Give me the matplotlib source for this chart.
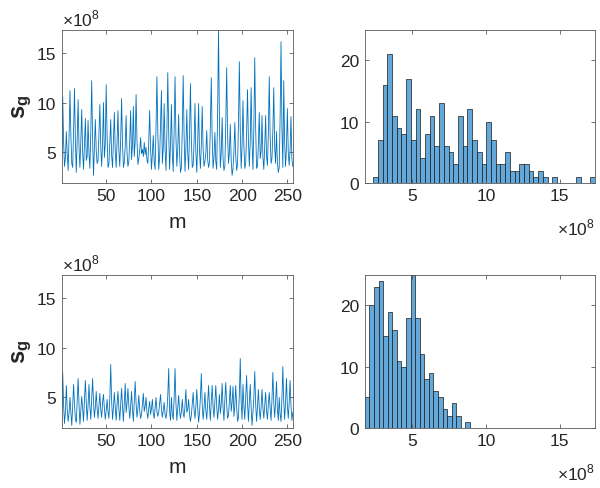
import numpy as np
import matplotlib
matplotlib.use('Agg')
import matplotlib.pyplot as plt

plt.rcParams['font.family'] = ['Liberation Sans', 'DejaVu Sans']
plt.rcParams['mathtext.fontset'] = 'custom'
plt.rcParams['mathtext.rm'] = 'Liberation Sans'
plt.rcParams['mathtext.bf'] = 'Liberation Sans:bold'

# s_g values (units of 1e8), m = 1..256
sg_top = [5.0,
          10.6, 6.0, 3.6, 4.5, 7.1, 4.8, 3.2, 6.5, 11.2, 6.8, 3.9, 3.5, 7.2,
          11.4, 6.1, 3.0, 6.4, 10.3, 5.5, 3.5, 6.2, 9.3, 5.0, 3.3, 5.9,
          8.4, 4.2, 4.6, 8.2, 4.9, 3.4, 7.0, 12.2, 6.3, 2.7, 5.5,
          8.3, 5.2, 3.9, 4.2, 6.8, 9.8, 5.6, 3.6, 6.0, 10.0, 4.5, 5.8,
          11.8, 6.6, 3.5, 3.8, 5.9, 8.3, 4.7, 3.5, 6.1, 9.0, 5.1, 3.5, 6.0,
          9.2, 5.2, 3.6, 6.3, 10.4, 5.9, 3.5, 4.0, 5.6, 8.7, 5.0, 3.6, 4.1, 6.2,
          9.2, 4.3, 5.7, 9.6, 4.6, 6.1, 10.8, 6.2, 3.8, 4.4, 5.2,
          6.5, 4.9, 5.3, 4.6, 6.0, 4.8, 5.5, 4.2, 3.9, 6.1,
          9.2, 5.4, 3.3, 4.9, 6.7, 4.0, 3.3, 7.5, 12.6, 7.1, 3.3, 4.5, 7.8,
          11.2, 3.9, 5.5, 9.9, 5.3, 3.2, 7.0, 13.0, 7.0, 3.3, 5.8,
          9.8, 4.9, 3.1, 7.2, 12.6, 6.5, 3.6, 5.3, 8.8, 4.8, 3.0, 3.5, 7.3,
          12.7, 6.7, 3.1, 5.4, 9.3, 4.9, 3.3, 6.9, 11.9, 6.3, 3.5, 3.7, 6.0,
          9.9, 5.0, 3.0, 5.9, 9.9, 5.1, 3.4, 5.7, 9.6, 5.3, 3.6, 4.1, 5.0,
          7.2, 4.3, 3.5, 4.0, 7.6, 12.5, 6.4, 3.4, 4.5, 7.0, 4.1, 3.3, 8.9,
          17.3, 8.2, 3.5, 5.0, 8.5, 4.4, 3.2, 3.6, 7.9, 13.5, 6.9, 3.9, 5.0,
          7.8, 4.2, 2.7, 3.4, 5.1, 8.0, 4.6, 3.2, 3.8, 7.8, 14.1, 7.3, 3.4, 5.6,
          10.2, 5.7, 3.4, 3.9, 6.9, 11.3, 6.2, 3.6, 6.1, 11.5, 6.0, 3.3, 7.4,
          14.5, 7.5, 3.4, 3.6, 5.8, 9.0, 4.4, 5.1, 8.7, 4.5, 3.3, 5.6,
          8.7, 4.6, 3.7, 6.9, 12.6, 6.6, 3.9, 4.4, 7.2, 11.5, 5.5, 3.9,
          7.1, 4.0, 3.0, 3.5, 8.5, 16.1, 7.5, 3.5, 12.2, 6.0, 3.6, 5.5,
          9.4, 5.0, 3.7, 5.2, 8.6, 4.3, 3.6]

sg_bot = [4.0,
          7.5, 4.2, 2.4, 3.6, 6.2, 3.8, 2.6, 3.4, 5.0, 3.5, 2.2, 4.1,
          6.3, 4.4, 2.8, 2.5, 4.6, 6.9, 4.3, 2.3, 3.7, 5.1, 3.9, 2.6, 4.8,
          6.7, 4.5, 2.7, 4.2, 6.3, 4.1, 2.8, 4.9, 6.9, 4.6, 3.0, 4.0,
          5.6, 3.9, 2.9, 4.2, 5.4, 3.8, 3.0, 4.5, 5.3, 3.9, 2.8, 3.7,
          4.8, 3.6, 2.9, 4.9, 8.3, 4.7, 2.8, 4.0, 5.5, 4.0, 2.7, 4.3,
          5.6, 3.9, 2.7, 4.4, 5.9, 4.1, 2.6, 4.6, 6.4, 3.5, 4.4,
          5.9, 4.2, 2.9, 4.1, 5.6, 3.8, 2.6, 4.7, 6.6, 4.4, 3.0, 3.9,
          5.2, 3.7, 2.9, 3.3, 4.4, 5.4, 3.6, 4.1, 5.0, 3.5, 2.9, 3.9,
          4.6, 3.3, 3.9, 4.8, 3.4, 2.9, 4.0, 5.0, 3.6, 3.1, 3.5, 4.4,
          5.3, 3.8, 3.0, 3.7, 4.5, 3.3, 2.9, 3.6, 5.2, 7.9, 3.6, 2.7,
          5.0, 3.3, 2.8, 4.9, 7.9, 4.4, 2.7, 3.9, 5.2, 3.7, 2.9, 3.6,
          4.8, 3.4, 3.0, 4.2, 5.8, 3.5, 3.8, 4.8, 3.3, 2.6, 3.2, 4.3,
          5.5, 3.8, 2.9, 4.1, 5.8, 4.0, 2.5, 3.4, 5.0, 7.4, 4.3, 2.8, 3.9,
          5.5, 3.7, 2.8, 4.4, 6.2, 4.2, 2.7, 4.6, 6.2, 4.0, 3.0, 4.7,
          6.2, 4.1, 2.8, 3.9, 5.3, 3.4, 4.3, 6.4, 4.0, 2.7, 4.8,
          6.5, 4.3, 2.9, 3.2, 4.6, 6.2, 3.6, 4.5, 6.1, 3.1, 4.2,
          6.2, 4.1, 2.6, 3.0, 5.3, 8.9, 4.5, 2.8, 6.3, 4.2, 2.8, 4.9,
          7.2, 4.5, 2.6, 4.4, 6.3, 4.0, 2.2, 3.5, 5.0, 7.6, 4.4, 2.6, 4.0,
          5.8, 3.9, 2.8, 4.0, 5.8, 4.0, 2.9, 4.2, 5.5, 3.7, 2.8, 4.3,
          5.5, 3.9, 2.7, 4.8, 7.5, 4.5, 3.0, 4.6, 6.6, 3.8, 2.7,
          5.0, 3.3, 2.6, 4.9, 8.1, 4.6, 2.8, 4.5, 6.9, 4.2, 2.9, 4.5,
          6.7, 4.2, 2.7, 3.5]

# histogram counts
hist_top = [1, 7, 16, 21, 11, 9, 8, 17, 7, 12, 4, 8, 11, 6, 13, 6, 5, 3, 11, 6,
            12, 7, 5, 3, 10, 7, 3, 3, 5, 2, 2, 3, 3, 2, 1, 2,
            1, 0, 1, 0, 0, 0, 0, 1, 0, 0, 1]
hist_bot = [5, 20, 23, 24, 15, 19, 16, 11, 10, 18, 25, 18, 12, 8, 9, 6, 5, 3, 2, 4, 2, 0, 1]
edge0_top, bw_top = 2.33, 0.3204
edge0_bot, bw_bot = 1.76, 0.311

line_col = '#0072BD'
bar_col = '#62A8DA'
ax_col = '#5a5a5a'
txt_col = '#262626'

fig = plt.figure(figsize=(6, 4.89), dpi=100)


def style(ax):
    for s in ax.spines.values():
        s.set_color(ax_col)
        s.set_linewidth(0.6)
    ax.tick_params(direction='in', top=True, right=True, length=3, width=0.6,
                   color=ax_col, labelsize=12.5, labelcolor=txt_col, pad=4)


for row, (sg, hc, e0, bw) in enumerate([(sg_top, hist_top, edge0_top, bw_top),
                                         (sg_bot, hist_bot, edge0_bot, bw_bot)]):
    bottom = 0.624 - row * 0.501
    # line plot
    ax = fig.add_axes([0.103, bottom, 0.385, 0.313])
    m = np.arange(1, len(sg) + 1)
    ax.plot(m, sg, color=line_col, lw=0.6)
    ax.set_xlim(1, 256)
    ax.set_ylim(1.95, 17.3)
    ax.set_xticks([50, 100, 150, 200, 250])
    ax.set_yticks([5, 10, 15])
    style(ax)
    ax.set_xlabel('m', fontsize=15, color=txt_col, labelpad=6)
    ax.set_ylabel(r'$\mathbf{s_g}$', fontsize=17, color=txt_col, labelpad=2)
    ax.text(0.0, 1.01, r'$\times10^{8}$', transform=ax.transAxes, fontsize=12.5,
            color=txt_col, ha='left', va='bottom')

    # histogram
    ax2 = fig.add_axes([0.608, bottom, 0.383, 0.313])
    centers = e0 + bw * (np.arange(len(hc)) + 0.5)
    ax2.bar(centers, hc, width=bw, color=bar_col, edgecolor='#1a1a1a', linewidth=0.5)
    ax2.set_xlim(1.76, 17.38)
    ax2.set_ylim(0, 25)
    ax2.set_xticks([5, 10, 15])
    ax2.set_yticks([0, 10, 20])
    style(ax2)
    ax2.text(1.0, -0.22, r'$\times10^{8}$', transform=ax2.transAxes, fontsize=12.5,
             color=txt_col, ha='right', va='top')

fig.savefig('out.png', dpi=100)
